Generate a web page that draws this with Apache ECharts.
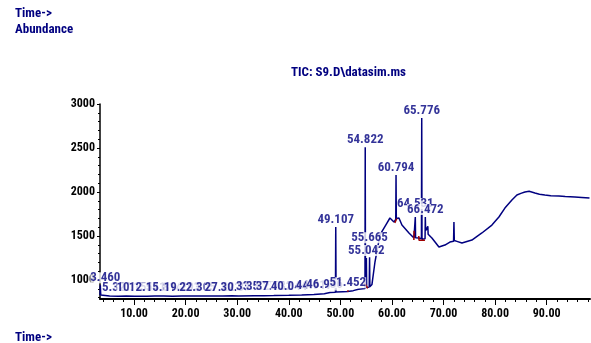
<!DOCTYPE html>
<html>
<head>
<meta charset="utf-8">
<script src="https://cdn.jsdelivr.net/npm/echarts@6/dist/echarts.min.js"></script>
<style>
  html, body { margin: 0; padding: 0; background: #fff; }
  #chart { width: 591px; height: 343px; }
</style>
</head>
<body>
<div id="chart"></div>
<script>
// Total ion chromatogram, S9.D\datasim.ms
const traceTimes = [
  3.40, 3.46, 3.55, 3.90, 5.25, 5.321, 5.40, 7.00, 8.50, 10.10, 10.152, 10.22,
  12.50, 12.541, 12.60, 14.00, 15.78, 15.814, 15.87, 17.50, 19.25, 19.293, 19.35,
  21.00, 22.26, 22.305, 22.36, 24.50, 27.18, 27.222, 27.28, 29.00, 30.29, 30.331,
  30.39, 33.29, 33.335, 33.39, 35.19, 35.237, 35.29, 37.09, 37.132, 37.19, 40.00,
  40.044, 40.10, 42.50, 44.87, 44.917, 44.97, 46.89, 46.936, 46.99, 48.00, 49.05,
  49.107, 49.17, 50.50, 51.40, 51.452, 51.50, 52.50, 53.50, 54.77, 54.822, 54.87,
  54.99, 55.042, 55.10, 55.60, 55.665, 55.72, 56.13, 56.71, 57.68, 59.03, 59.61,
  60.39, 60.74, 60.794, 60.85, 61.36, 61.94, 63.30, 64.27, 64.48, 64.531, 64.58,
  65.23, 65.72, 65.776, 65.83, 66.20, 66.42, 66.472, 66.53, 66.90, 66.96, 67.02,
  67.75, 69.11, 70.27, 71.24, 71.95, 72.02, 72.09, 72.60, 73.57, 75.50, 77.44,
  79.38, 80.74, 81.90, 83.26, 84.23, 85.00, 85.78, 86.60, 87.72, 88.60, 89.65,
  90.80, 92.37, 93.60, 95.47, 96.80, 98.30
];
const traceAbund = [
  830, 940, 830, 822, 818, 830, 817, 815, 818, 816, 828, 816,
  817, 828, 816, 820, 818, 830, 817, 816, 818, 830, 817,
  820, 818, 832, 818, 820, 820, 832, 819, 821, 820, 833,
  821, 822, 834, 822, 823, 836, 823, 824, 838, 825, 827,
  840, 827, 830, 836, 850, 838, 845, 860, 848, 858, 862,
  1603, 865, 868, 870, 885, 872, 880, 895, 905, 2510, 910,
  912, 1250, 915, 920, 1260, 925, 950, 1205, 1512, 1648, 1705,
  1660, 1690, 2193, 1700, 1705, 1625, 1535, 1478, 1480, 1716, 1480,
  1478, 1470, 2841, 1465, 1455, 1470, 1716, 1560, 1560, 1610, 1520,
  1478, 1375, 1398, 1432, 1440, 1660, 1450, 1440, 1421, 1455, 1535,
  1625, 1716, 1818, 1909, 1966, 1985, 2000, 2008, 1989, 1975, 1966,
  1958, 1955, 1950, 1943, 1938, 1932
];

// Retention times that carry a label
const peakTimes = [
  3.460, 5.321, 10.152, 12.541, 15.814, 19.293, 22.305, 27.222, 30.331, 33.335,
  35.237, 37.132, 40.044, 44.917, 46.936, 49.107, 51.452, 54.822, 55.042, 55.665,
  60.794, 64.531, 65.776, 66.472
];

// Integration baseline marks (segments separated by null)
const integTimes = [54.70, 55.30, null, 60.55, 60.95, null, 64.25, 64.30, null, 65.20, 65.25, 66.40, null, 51.30, 51.60];
const integAbund = [965, 905, null, 1650, 1700, null, 1455, 1560, null, 1500, 1452, 1452, null, 872, 878];

const xMajorTicks = [10, 20, 30, 40, 50, 60, 70, 80, 90];
const xMinorTicks = [4, 6, 8, 12, 14, 16, 18, 22, 24, 26, 28, 32, 34, 36, 38, 42, 44, 46, 48,
  52, 54, 56, 58, 62, 64, 66, 68, 72, 74, 76, 78, 82, 84, 86, 88, 92, 94, 96, 98];
const yMajorTicks = [1000, 1500, 2000, 2500, 3000];
const yMinorTicks = [800, 900, 1100, 1200, 1300, 1400, 1600, 1700, 1800, 1900,
  2100, 2200, 2300, 2400, 2600, 2700, 2800, 2900];

const NAVY = '#000080';
const FONT = "'Liberation Sans Narrow', 'Arial Narrow', 'Roboto Condensed', sans-serif";
// Nudges for crowded peak labels, in pixels
const labelShift = { '3.460': [5, 0], '5.321': [7, 0], '55.665': [0, -12], '64.531': [0, -6] };

const traceData = traceTimes.map((t, i) => [t, traceAbund[i]]);
const integData = integTimes.map((t, i) => (t === null ? [null, null] : [t, integAbund[i]]));
const peakData = peakTimes.map(t => {
  const i = traceTimes.indexOf(t);
  return { value: [t, traceAbund[i]], name: t.toFixed(3) };
});

const X_MIN = 3.4, X_MAX = 98.4, Y_MIN = 785, Y_MAX = 3000;
const axisFont = { color: '#000', fontFamily: FONT, fontWeight: 'bold', fontSize: 12 };

const chart = echarts.init(document.getElementById('chart'), null, { renderer: 'canvas' });
chart.setOption({
  animation: false,
  backgroundColor: '#fff',
  grid: { left: 100, right: 1, top: 104, bottom: 44, containLabel: false },
  xAxis: [
    {
      type: 'value', min: X_MIN, max: X_MAX,
      axisLine: { show: true, lineStyle: { color: '#000', width: 2 } },
      axisTick: { show: true, length: 6, customValues: xMajorTicks, lineStyle: { color: '#000' } },
      axisLabel: Object.assign({ customValues: xMajorTicks, margin: 9, formatter: v => v.toFixed(2) }, axisFont),
      splitLine: { show: false }
    },
    {
      type: 'value', min: X_MIN, max: X_MAX, position: 'bottom',
      axisLine: { show: false },
      axisTick: { show: true, length: 3, customValues: xMinorTicks, lineStyle: { color: '#000' } },
      axisLabel: { show: false },
      splitLine: { show: false }
    }
  ],
  yAxis: [
    {
      type: 'value', min: Y_MIN, max: Y_MAX,
      axisLine: { show: true, lineStyle: { color: '#000', width: 1.5 } },
      axisTick: { show: true, length: 3, customValues: yMajorTicks, lineStyle: { color: '#000' } },
      axisLabel: Object.assign({ customValues: yMajorTicks, margin: 5, formatter: v => String(v) }, axisFont),
      splitLine: { show: false }
    },
    {
      type: 'value', min: Y_MIN, max: Y_MAX, position: 'left',
      axisLine: { show: false },
      axisTick: { show: true, length: 2, customValues: yMinorTicks, lineStyle: { color: '#000' } },
      axisLabel: { show: false },
      splitLine: { show: false }
    }
  ],
  series: [
    {
      type: 'line', name: 'TIC', data: traceData,
      symbol: 'none', lineStyle: { color: NAVY, width: 1.5 }, z: 2
    },
    {
      type: 'line', name: 'integration', data: integData, connectNulls: false,
      symbol: 'none', lineStyle: { color: '#a00000', width: 1.5 }, z: 3
    },
    {
      type: 'scatter', name: 'peaks', data: peakData, symbolSize: 0, z: 4,
      label: {
        show: true, position: 'top', distance: 2,
        formatter: p => p.name,
        color: NAVY, fontFamily: FONT, fontWeight: 'bold', fontSize: 13,
        lineHeight: 11, backgroundColor: '#fff', padding: 0
      },
      labelLayout: params => {
        const s = labelShift[peakData[params.dataIndex].name];
        return s ? { dx: s[0], dy: s[1], hideOverlap: false } : { hideOverlap: false };
      }
    }
  ],
  graphic: [
    { type: 'text', left: 15, top: 7, style: { text: 'Time->', fill: NAVY, font: 'bold 13px ' + FONT } },
    { type: 'text', left: 15, top: 23, style: { text: 'Abundance', fill: NAVY, font: 'bold 13px ' + FONT } },
    { type: 'text', left: 291, top: 66, style: { text: 'TIC: S9.D\\datasim.ms', fill: NAVY, font: 'bold 13px ' + FONT } },
    { type: 'text', left: 15, top: 331, style: { text: 'Time->', fill: NAVY, font: 'bold 13px ' + FONT } }
  ]
});
</script>
</body>
</html>
